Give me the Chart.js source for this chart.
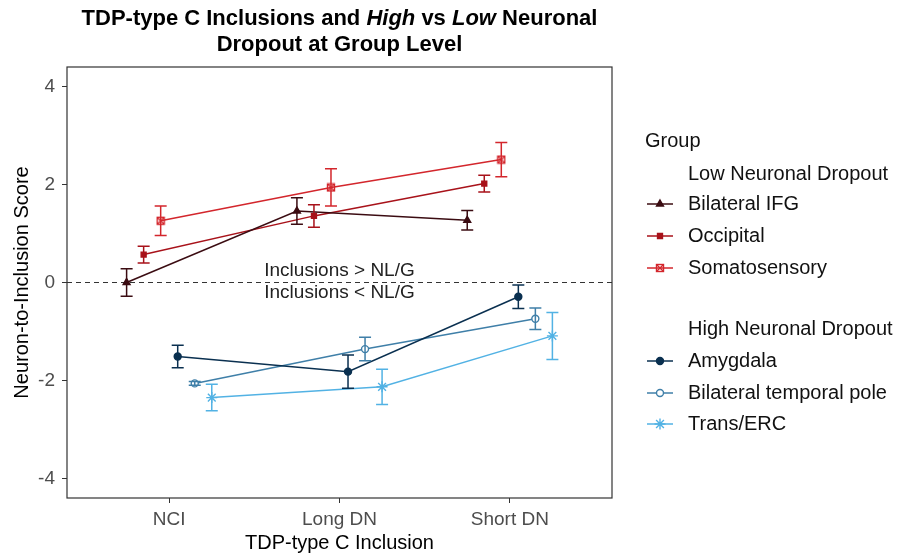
<!DOCTYPE html>
<html>
<head>
<meta charset="utf-8">
<script src="https://cdn.jsdelivr.net/npm/chart.js@4"></script>
<style>
  body { margin: 0; background: #fff; }
  #chart { display: block; }
</style>
</head>
<body>
<canvas id="chart" width="901" height="556"></canvas>
<script>
// ================= DATA =================
const categories = ["NCI", "Long DN", "Short DN"];
const yTicks = [-4, -2, 0, 2, 4];

const seriesNames = ["Bilateral IFG", "Occipital", "Somatosensory", "Amygdala", "Bilateral temporal pole", "Trans/ERC"];
const groupOf = ["Low Neuronal Dropout", "Low Neuronal Dropout", "Low Neuronal Dropout", "High Neuronal Dropout", "High Neuronal Dropout", "High Neuronal Dropout"];

// means and +/- error per category (NCI, Long DN, Short DN)
const ifgMean = [0.0, 1.46, 1.27];
const ifgErr = [0.28, 0.27, 0.2];
const occMean = [0.57, 1.36, 2.02];
const occErr = [0.17, 0.23, 0.17];
const somMean = [1.26, 1.94, 2.51];
const somErr = [0.3, 0.38, 0.35];
const amyMean = [-1.51, -1.82, -0.29];
const amyErr = [0.23, 0.34, 0.24];
const tpMean = [-2.06, -1.36, -0.74];
const tpErr = [0.04, 0.24, 0.22];
const ercMean = [-2.35, -2.13, -1.09];
const ercErr = [0.27, 0.36, 0.48];

// position_dodge offsets (category units)
const dodge = [-0.25, -0.15, -0.05, 0.05, 0.15, 0.25];

// ================= STYLE =================
const COLORS = ["#3b0c12", "#a8121a", "#d3262c", "#0a3050", "#3f7fa8", "#52b2e4"];
const FONT = "Arial, 'Liberation Sans', sans-serif";

// hollow square with a cross, like ggplot shape 7
function squareCross(color) {
  const c = document.createElement("canvas");
  c.width = 10; c.height = 10;
  const g = c.getContext("2d");
  g.strokeStyle = color;
  g.lineWidth = 1.4;
  g.strokeRect(1.5, 1.5, 7, 7);
  g.beginPath();
  g.moveTo(1.5, 1.5); g.lineTo(8.5, 8.5);
  g.moveTo(8.5, 1.5); g.lineTo(1.5, 8.5);
  g.stroke();
  return c;
}

const means = [ifgMean, occMean, somMean, amyMean, tpMean, ercMean];
const errs = [ifgErr, occErr, somErr, amyErr, tpErr, ercErr];
const styles = [
  { pointStyle: "triangle", fill: COLORS[0], r: 4 },
  { pointStyle: "rect", fill: COLORS[1], r: 3.5 },
  { pointStyle: squareCross(COLORS[2]), fill: "#fff", r: 4 },
  { pointStyle: "circle", fill: COLORS[3], r: 3.5 },
  { pointStyle: "circle", fill: "#fff", r: 3.5 },
  { pointStyle: "star", fill: COLORS[5], r: 5.5 }
];

const datasets = seriesNames.map((name, i) => ({
  label: name,
  data: means[i].map((m, j) => ({ x: j + dodge[i], y: m })),
  errors: errs[i],
  borderColor: COLORS[i],
  backgroundColor: styles[i].fill,
  borderWidth: 1.5,
  pointStyle: styles[i].pointStyle,
  pointRadius: styles[i].r,
  pointBorderWidth: 1.4,
  pointBorderColor: COLORS[i],
  pointBackgroundColor: styles[i].fill,
  tension: 0
}));

// ================= PLUGIN =================
const decor = {
  id: "decor",
  beforeDatasetsDraw(chart) {
    const { ctx, chartArea: a, scales: { x, y } } = chart;
    ctx.save();
    // dashed zero line
    ctx.strokeStyle = "#333";
    ctx.lineWidth = 1;
    ctx.setLineDash([5, 4]);
    ctx.beginPath();
    ctx.moveTo(a.left, y.getPixelForValue(0));
    ctx.lineTo(a.right, y.getPixelForValue(0));
    ctx.stroke();
    ctx.setLineDash([]);
    // annotations
    ctx.fillStyle = "#222";
    ctx.font = "19px " + FONT;
    ctx.textAlign = "center";
    ctx.textBaseline = "middle";
    ctx.fillText("Inclusions > NL/G", x.getPixelForValue(1), y.getPixelForValue(0.23));
    ctx.fillText("Inclusions < NL/G", x.getPixelForValue(1), y.getPixelForValue(-0.2));
    ctx.restore();
  },
  afterDatasetsDraw(chart) {
    const { ctx, scales: { x, y } } = chart;
    ctx.save();
    ctx.lineWidth = 1.5;
    chart.data.datasets.forEach((ds, i) => {
      ctx.strokeStyle = COLORS[i];
      ds.data.forEach((p, j) => {
        const px = x.getPixelForValue(p.x);
        const top = y.getPixelForValue(p.y + ds.errors[j]);
        const bot = y.getPixelForValue(p.y - ds.errors[j]);
        ctx.beginPath();
        ctx.moveTo(px, top); ctx.lineTo(px, bot);
        ctx.moveTo(px - 6, top); ctx.lineTo(px + 6, top);
        ctx.moveTo(px - 6, bot); ctx.lineTo(px + 6, bot);
        ctx.stroke();
      });
    });
    ctx.restore();
  },
  afterDraw(chart) {
    const { ctx, chartArea: a } = chart;
    ctx.save();
    // panel border
    ctx.strokeStyle = "#333";
    ctx.lineWidth = 1.2;
    ctx.strokeRect(a.left, a.top, a.right - a.left, a.bottom - a.top);

    // title with italic words
    const cx = (a.left + a.right) / 2;
    const parts = [
      ["TDP-type C Inclusions and ", "bold"],
      ["High", "italic bold"],
      [" vs ", "bold"],
      ["Low", "italic bold"],
      [" Neuronal", "bold"]
    ];
    ctx.fillStyle = "#000";
    ctx.textBaseline = "middle";
    ctx.textAlign = "left";
    let total = 0;
    parts.forEach(p => { ctx.font = p[1] + " 22px " + FONT; total += ctx.measureText(p[0]).width; });
    let tx = cx - total / 2;
    parts.forEach(p => {
      ctx.font = p[1] + " 22px " + FONT;
      ctx.fillText(p[0], tx, 19);
      tx += ctx.measureText(p[0]).width;
    });
    ctx.textAlign = "center";
    ctx.font = "bold 22px " + FONT;
    ctx.fillText("Dropout at Group Level", cx, 45);

    // legend
    ctx.textAlign = "left";
    ctx.font = "20px " + FONT;
    ctx.fillStyle = "#111";
    ctx.fillText("Group", 645, 141);
    ctx.fillText(groupOf[0], 688, 174);
    ctx.fillText(groupOf[3], 688, 329);
    const rows = [204, 236, 268, 361, 393, 424];
    seriesNames.forEach((name, i) => {
      const ly = rows[i];
      ctx.strokeStyle = COLORS[i];
      ctx.lineWidth = 1.5;
      ctx.beginPath();
      ctx.moveTo(647, ly); ctx.lineTo(673, ly);
      ctx.stroke();
      ctx.fillStyle = styles[i].fill;
      ctx.lineWidth = 1.4;
      Chart.helpers.drawPoint(ctx, { pointStyle: styles[i].pointStyle, radius: styles[i].r, rotation: 0, borderWidth: 1.4 }, 660, ly);
      ctx.fillStyle = "#111";
      ctx.fillText(name, 688, ly);
    });
    ctx.restore();
  }
};

// ================= CHART =================
new Chart(document.getElementById("chart"), {
  type: "line",
  data: { datasets },
  options: {
    responsive: false,
    animation: false,
    layout: { padding: { left: 0, top: 67, right: 289, bottom: 0 } },
    plugins: { legend: { display: false }, tooltip: { enabled: false }, title: { display: false } },
    scales: {
      x: {
        type: "linear",
        min: -0.6,
        max: 2.6,
        afterBuildTicks: s => { s.ticks = categories.map((c, i) => ({ value: i })); },
        afterFit: s => { s.height = 58; },
        ticks: {
          callback: v => categories[v],
          color: "#4d4d4d",
          font: { family: FONT, size: 19 },
          padding: 5,
          maxRotation: 0
        },
        grid: { drawOnChartArea: false, drawTicks: true, tickLength: 5, tickColor: "#333" },
        border: { display: false },
        title: { display: true, text: "TDP-type C Inclusion", color: "#000", font: { family: FONT, size: 20 }, padding: { top: 0, bottom: 1 } }
      },
      y: {
        min: -4.4,
        max: 4.4,
        afterBuildTicks: s => { s.ticks = yTicks.map(v => ({ value: v })); },
        afterFit: s => { s.width = 67; },
        ticks: {
          color: "#4d4d4d",
          font: { family: FONT, size: 19 },
          padding: 7
        },
        grid: { drawOnChartArea: false, drawTicks: true, tickLength: 5, tickColor: "#333" },
        border: { display: false },
        title: { display: true, text: "Neuron-to-Inclusion Score", color: "#000", font: { family: FONT, size: 20 }, padding: { top: 10, bottom: 0 } }
      }
    }
  },
  plugins: [decor]
});
</script>
</body>
</html>
